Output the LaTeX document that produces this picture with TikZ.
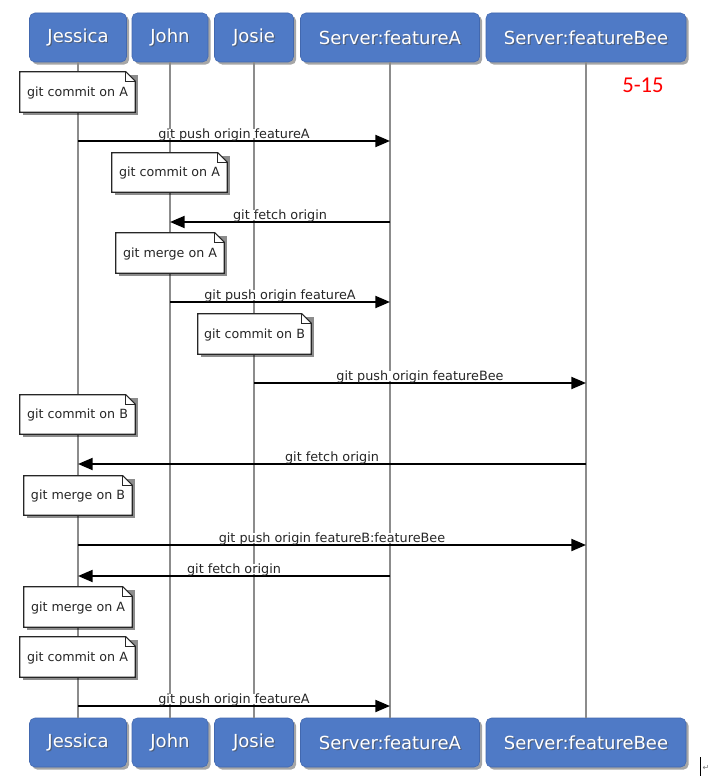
\documentclass[tikz,border=0pt]{standalone}
\usepackage{fontspec}
\setmainfont{DejaVu Sans}
\newfontfamily\redfont{Carlito}
\usetikzlibrary{arrows.meta,shadows,calc}
\definecolor{actorblue}{RGB}{79,122,198}
\definecolor{actorborder}{RGB}{66,104,175}
\definecolor{lifegray}{RGB}{140,140,140}
\tikzset{
  actorbox/.style={draw=actorborder, fill=actorblue, rounded corners=4pt, minimum height={49*0.75pt}, inner sep=0pt,
    drop shadow={shadow xshift=2pt, shadow yshift=-2pt, opacity=0.35, fill=black}},
  actortext/.style={text=white, font=\fontsize{13.5}{16}\selectfont, inner sep=0pt},
  actorshade/.style={text=black!70, opacity=0.6, font=\fontsize{13.5}{16}\selectfont, inner sep=0pt},
  lifeline/.style={draw=lifegray, line width=1.4pt},
  notetxt/.style={inner sep=0pt, text=black!85, font=\fontsize{9.5}{11}\selectfont},
  noteline/.style={draw=black!85, line width=0.8pt, fill=white},
  noteshadow/.style={fill=black, opacity=0.45},
  msg/.style={line width=1.5pt, -{Triangle[length=11pt, width=9pt]}},
  msglabel/.style={fill=white, text depth=0pt, inner xsep=1pt, inner ysep=0pt, text=black!85, font=\fontsize{9.6}{11}\selectfont, anchor=base},
}
\newcommand\actorbox[5]{%
  \node[actorbox, minimum width={#4*0.75pt}] (#1) at (#2,#3) {};
  \node[actorshade] (#1s) at ([xshift=0.9pt,yshift=-0.9pt]#1.center) {#5};
  \node[actortext] (#1t) at (#1.center) {#5};
}
\newcommand\notebox[6]{%
  \fill[noteshadow] (#2+3,#3+3) rectangle (#4+3,#5+3);
  \node[notetxt, minimum width={(#4-#2)*0.75pt}, minimum height={(#5-#3)*0.75pt}] (#1) at ({(#2+#4)/2},{(#3+#5)/2}) {};
  \draw[noteline] (#1.north west) -- ([xshift=-7pt]#1.north east) -- ([yshift=-7pt]#1.north east) -- (#1.south east) -- (#1.south west) -- cycle;
  \draw[noteline, fill=none] ([xshift=-7pt]#1.north east) |- ([yshift=-7pt]#1.north east);
  \node[notetxt] (#1t) at ([yshift=-0.5pt]#1.center) {#6};
}
\begin{document}
\begin{tikzpicture}[x=0.75pt, y=-0.75pt]
\useasboundingbox[fill=white] (0,0) rectangle (716,784);
% actors top
\actorbox{jesT}{78}{37.5}{97}{Jessica}
\actorbox{johT}{170}{37.5}{76}{John}
\actorbox{josT}{254}{37.5}{79}{Josie}
\actorbox{faT}{390}{37.5}{179}{Server:featureA}
\actorbox{fbT}{586}{37.5}{200}{Server:featureBee}
% actors bottom
\actorbox{jesB}{78}{742.5}{97}{Jessica}
\actorbox{johB}{170}{742.5}{76}{John}
\actorbox{josB}{254}{742.5}{79}{Josie}
\actorbox{faB}{390}{742.5}{179}{Server:featureA}
\actorbox{fbB}{586}{742.5}{200}{Server:featureBee}
% lifelines
\draw[lifeline] (jesT.south) -- (jesB.north);
\draw[lifeline] (johT.south) -- (johB.north);
\draw[lifeline] (josT.south) -- (josB.north);
\draw[lifeline] (faT.south) -- (faB.north);
\draw[lifeline] (fbT.south) -- (fbB.north);
% notes
\notebox{n1}{20}{72}{135}{112}{git commit on A}
\notebox{n2}{112}{153}{227}{192}{git commit on A}
\notebox{n3}{116}{233}{224}{273}{git merge on A}
\notebox{n4}{198}{314}{311}{354}{git commit on B}
\notebox{n5}{20}{395}{135}{434}{git commit on B}
\notebox{n6}{24}{476}{132}{515}{git merge on B}
\notebox{n7}{24}{587}{132}{627}{git merge on A}
\notebox{n8}{20}{637}{135}{677}{git commit on A}
% message end points
\coordinate (m1a) at (78,141);  \coordinate (m1b) at (390,141);
\coordinate (m2a) at (390,222); \coordinate (m2b) at (170,222);
\coordinate (m3a) at (170,302); \coordinate (m3b) at (390,302);
\coordinate (m4a) at (254,383); \coordinate (m4b) at (586,383);
\coordinate (m5a) at (586,464); \coordinate (m5b) at (78,464);
\coordinate (m6a) at (78,545);  \coordinate (m6b) at (586,545);
\coordinate (m7a) at (390,576); \coordinate (m7b) at (78,576);
\coordinate (m8a) at (78,706);  \coordinate (m8b) at (390,706);
% messages
\draw[msg] (m1a) -- (m1b);
\node[msglabel] (l1) at ($(m1a)!0.5!(m1b)+(0,-2.5)$) {git push origin featureA};
\draw[msg] (m2a) -- (m2b);
\node[msglabel] (l2) at ($(m2a)!0.5!(m2b)+(0,-2.5)$) {git fetch origin};
\draw[msg] (m3a) -- (m3b);
\node[msglabel] (l3) at ($(m3a)!0.5!(m3b)+(0,-2.5)$) {git push origin featureA};
\draw[msg] (m4a) -- (m4b);
\node[msglabel] (l4) at ($(m4a)!0.5!(m4b)+(0,-2.5)$) {git push origin featureBee};
\draw[msg] (m5a) -- (m5b);
\node[msglabel] (l5) at ($(m5a)!0.5!(m5b)+(0,-2.5)$) {git fetch origin};
\draw[msg] (m6a) -- (m6b);
\node[msglabel] (l6) at ($(m6a)!0.5!(m6b)+(0,-2.5)$) {git push origin featureB:featureBee};
\draw[msg] (m7a) -- (m7b);
\node[msglabel] (l7) at ($(m7a)!0.5!(m7b)+(0,-2.5)$) {git fetch origin};
\draw[msg] (m8a) -- (m8b);
\node[msglabel] (l8) at ($(m8a)!0.5!(m8b)+(0,-2.5)$) {git push origin featureA};
% red label
\node[text=red, font=\redfont\fontsize{17}{20}\selectfont, inner sep=0pt] (tag) at (643,85) {5-15};
% cursor mark
\coordinate (cA) at (700,757); \coordinate (cB) at (700,776);
\draw[line width=0.7pt] (cA) -- (cB);
\node[text=black!55, font=\fontsize{6}{7}\selectfont, inner sep=0pt] (ret) at (706,768) {↵};
\end{tikzpicture}
\end{document}
